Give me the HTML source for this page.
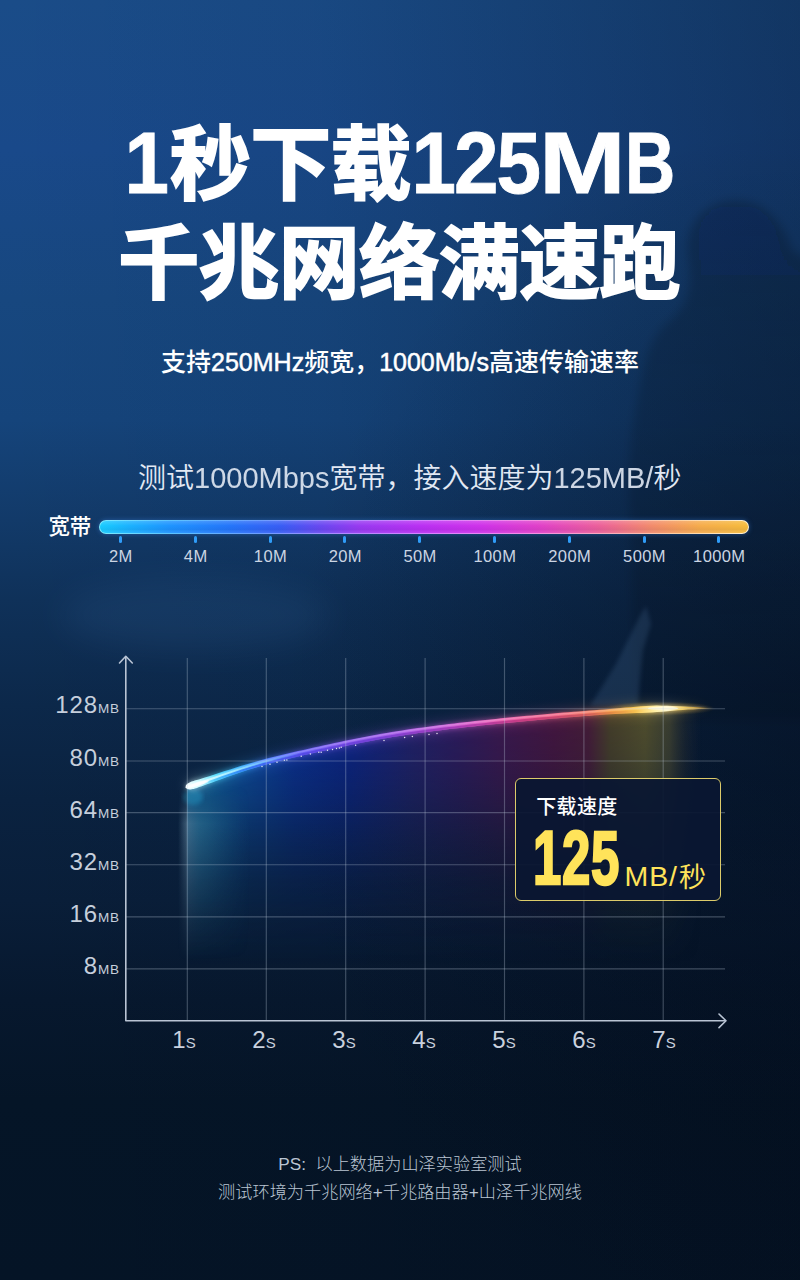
<!DOCTYPE html>
<html lang="zh-CN">
<head>
<meta charset="utf-8">
<title>1秒下载125MB 千兆网络满速跑</title>
<style>
html,body{margin:0;padding:0;}
body{width:800px;height:1280px;overflow:hidden;background:#0c1d36;font-family:"Liberation Sans","Noto Sans CJK SC",sans-serif;}
#stage{position:relative;width:800px;height:1280px;overflow:hidden;
  background:
   radial-gradient(ellipse 520px 620px at 100% 58%,rgba(2,9,22,.34) 0%,rgba(2,9,22,.2) 45%,rgba(2,9,22,0) 100%),
   linear-gradient(90deg,rgba(2,10,24,0) 0%,rgba(2,10,24,.06) 40%,rgba(2,10,24,.33) 100%),
   linear-gradient(180deg,#1a4c88 0px,#19498a 150px,#17477f 300px,#15447b 420px,#123a69 520px,#0f3159 600px,#0c284a 705px,#0a2240 800px,#091e39 900px,#07182e 1000px,#051527 1100px,#051426 1280px);}
#bgsvg{position:absolute;left:0;top:0;width:800px;height:1280px;}
.abs{position:absolute;white-space:nowrap;}
h1{position:absolute;left:0;top:113px;width:800px;margin:0;text-align:center;color:#fff;font-size:81px;line-height:100px;font-weight:700;letter-spacing:-0.8px;white-space:nowrap;-webkit-text-stroke:2px #fff;}
h1 .l1{position:relative;top:2px;left:1px;}
h1 .l2{position:relative;left:-1px;}
h1 .la{display:inline-block;font-size:80px;font-weight:700;letter-spacing:0;transform:scaleY(1.08);transform-origin:50% 78%;-webkit-text-stroke:.8px #fff;}
h1 .la i{display:inline-block;font-style:normal;transform-origin:0 50%;}
h1 .la .m{transform:scaleX(1.3);margin-right:19px;}
h1 .la .b{transform:scaleX(.87);margin-right:-8px;}
.sub{left:0;width:800px;top:345px;text-align:center;color:#fff;font-size:25px;line-height:34px;font-weight:500;}
.sub span{-webkit-text-stroke:.5px #fff;}
.test{left:138px;top:458px;color:#e2e9f4;font-size:28px;line-height:40px;font-weight:350;}
.test span{font-size:29px;opacity:.9;}
.bwlabel{left:48.5px;top:513px;color:#fff;font-size:21.5px;line-height:28px;font-weight:500;letter-spacing:-.2px;}
.bar{position:absolute;left:99px;top:519.5px;width:650px;height:14.5px;border-radius:7.5px;
  background:linear-gradient(90deg,#7cecff 0.0%,#5cc4ff 10.9%,#6c9eff 24.8%,#b08aff 37.1%,#da84ff 50.9%,#f28ce8 64.8%,#f9aac0 77.1%,#fdd2a2 89.4%,#fff2d4 100.0%);
  box-shadow:0 0 5px rgba(70,150,255,.4);}
.bar::after{content:"";position:absolute;left:1.2px;top:1.3px;right:1.2px;bottom:1.3px;border-radius:6px;
  background:linear-gradient(180deg,rgba(255,255,255,.16) 0%,rgba(255,255,255,0) 40%,rgba(0,0,60,.05) 70%,rgba(255,255,255,.08) 100%),
  linear-gradient(90deg,#18ccff -0.0%,#1bb2ff 4.6%,#1e94ff 10.8%,#2476fa 20.0%,#385ef5 27.8%,#6849f1 33.9%,#993af1 40.1%,#ba30f3 49.4%,#cf32ea 58.6%,#e141c8 67.9%,#ec6199 77.2%,#f28a6d 84.9%,#f6ac4b 92.6%,#f6bc3c 100.0%);}
.tick{position:absolute;top:536px;width:3px;height:6.5px;border-radius:1.5px;background:#2f9cf8;}
.tl{top:545px;width:80px;margin-left:-39.6px;text-align:center;color:#cbd5e3;font-size:16.5px;line-height:22px;letter-spacing:.4px;}
.yl{width:119.5px;left:0;text-align:right;color:#c6cfdc;font-size:24px;line-height:30px;letter-spacing:.9px;}
.yl small{font-size:13.5px;letter-spacing:.6px;margin-left:0;}
.xl{width:60px;margin-left:-30px;text-align:center;top:1025px;color:#c9d1de;font-size:24px;line-height:30px;}
.xl small{font-size:15px;}
.box{position:absolute;left:515px;top:778px;width:204px;height:121px;border:1px solid #dccb6a;border-radius:6px;background:rgba(10,23,49,.93);}
.box .t{left:20.3px;top:14.6px;color:#fff;font-size:20px;line-height:26px;font-weight:500;letter-spacing:.3px;}
.box .n{left:17px;top:38.5px;color:#ffe35a;font-size:75.5px;line-height:80px;font-weight:700;transform:scaleX(.675);transform-origin:0 50%;-webkit-text-stroke:2.5px #ffe35a;letter-spacing:1px;}
.box .u{left:108.5px;top:79px;color:#ffe35a;font-size:28.5px;line-height:36px;letter-spacing:.9px;}
.box .u b{font-weight:400;font-size:27px;margin-left:1px;position:relative;top:.5px;}
.ps{left:0;width:800px;text-align:center;color:#bac5d3;font-size:17.2px;line-height:24px;font-weight:300;}
</style>
</head>
<body>
<div id="stage">
<svg id="bgsvg" viewBox="0 0 800 1280">
<defs><linearGradient id="sil" gradientUnits="userSpaceOnUse" x1="0" y1="200" x2="0" y2="720"><stop offset="0" stop-color="#020a18" stop-opacity=".2"/><stop offset=".35" stop-color="#020a18" stop-opacity=".15"/><stop offset="1" stop-color="#020a18" stop-opacity=".1"/></linearGradient><filter id="bb" x="-20%" y="-20%" width="140%" height="140%"><feGaussianBlur stdDeviation="5"/></filter>
<filter id="bd" x="-20%" y="-20%" width="140%" height="140%"><feGaussianBlur stdDeviation="2.2"/></filter>
<filter id="bc" x="-30%" y="-60%" width="160%" height="220%"><feGaussianBlur stdDeviation="16"/></filter></defs>
<path d="M688 258C684 228 700 206 728 201C760 197 782 218 792 250L812 262V720H640C636 670 630 610 632 560C628 500 626 450 638 398C644 360 650 338 668 322C684 310 694 292 688 258Z" fill="url(#sil)" filter="url(#bb)"/>
<ellipse cx="195" cy="615" rx="135" ry="36" fill="#5c9be0" opacity=".085" filter="url(#bc)"/>
<path d="M646 606L651 624L643 650L640 680L638 706H590L600 690L616 664L630 636L640 616Z" fill="#6a97c8" opacity=".16" filter="url(#bd)"/>
</svg>

<h1><span class="l1"><span class="la" style="margin-left:-3px;margin-right:1px">1</span>秒下载<span class="la" style="margin-left:1px"><i style="letter-spacing:-2px">125</i><i class="m">M</i><i class="b">B</i></span></span><br><span class="l2">千兆网络满速跑</span></h1>
<div class="abs sub">支持<span>250MHz</span>频宽，<span>1000Mb/s</span>高速传输速率</div>
<div class="abs test">测试<span>1000Mbps</span>宽带，接入速度为<span>125MB/</span>秒</div>

<div class="abs bwlabel">宽带</div>
<div class="bar"></div>
<div class="tick" style="left:119.0px"></div><div class="abs tl" style="left:120.5px">2M</div>
<div class="tick" style="left:193.8px"></div><div class="abs tl" style="left:195.3px">4M</div>
<div class="tick" style="left:268.6px"></div><div class="abs tl" style="left:270.1px">10M</div>
<div class="tick" style="left:343.4px"></div><div class="abs tl" style="left:344.9px">20M</div>
<div class="tick" style="left:418.2px"></div><div class="abs tl" style="left:419.7px">50M</div>
<div class="tick" style="left:493.0px"></div><div class="abs tl" style="left:494.5px">100M</div>
<div class="tick" style="left:567.8px"></div><div class="abs tl" style="left:569.3px">200M</div>
<div class="tick" style="left:642.6px"></div><div class="abs tl" style="left:644.1px">500M</div>
<div class="tick" style="left:717.4px"></div><div class="abs tl" style="left:718.9px">1000M</div>

<svg class="abs" style="left:0;top:600px" width="800" height="460" viewBox="0 600 800 460">
<defs>
<linearGradient id="cg" gradientUnits="userSpaceOnUse" x1="186" y1="0" x2="714" y2="0">
<stop offset="0.000" stop-color="#f6ffff"/><stop offset="0.027" stop-color="#c0f9ff"/><stop offset="0.055" stop-color="#58e0ff"/><stop offset="0.102" stop-color="#3ab4ff"/><stop offset="0.152" stop-color="#4a80ff"/><stop offset="0.216" stop-color="#6a64f8"/><stop offset="0.303" stop-color="#8c5cf0"/><stop offset="0.405" stop-color="#aa5ee8"/><stop offset="0.481" stop-color="#c660dc"/><stop offset="0.557" stop-color="#e262c4"/><stop offset="0.633" stop-color="#f064a2"/><stop offset="0.708" stop-color="#f36c88"/><stop offset="0.765" stop-color="#f5826a"/><stop offset="0.807" stop-color="#f7a24e"/><stop offset="0.850" stop-color="#fcca52"/><stop offset="0.888" stop-color="#fff0a4"/><stop offset="0.911" stop-color="#fff9d4"/><stop offset="0.939" stop-color="#f8d260"/><stop offset="0.970" stop-color="#dcaa42" stop-opacity="0.75"/><stop offset="1.000" stop-color="#c89a30" stop-opacity="0"/>
</linearGradient>
<linearGradient id="kg" gradientUnits="userSpaceOnUse" x1="186" y1="0" x2="300" y2="0"><stop offset="0" stop-color="#fff" stop-opacity=".95"/><stop offset=".35" stop-color="#c8fbff" stop-opacity=".8"/><stop offset=".7" stop-color="#8ae6ff" stop-opacity=".45"/><stop offset="1" stop-color="#8ad0ff" stop-opacity="0"/></linearGradient>
<linearGradient id="dg" gradientUnits="userSpaceOnUse" x1="186" y1="0" x2="714" y2="0">
<stop offset="0.027" stop-color="#2a6cf0" stop-opacity="0"/><stop offset="0.112" stop-color="#2f5cf0" stop-opacity="0.55"/><stop offset="0.216" stop-color="#4a40e0" stop-opacity="0.7"/><stop offset="0.367" stop-color="#6a34cc" stop-opacity="0.7"/><stop offset="0.519" stop-color="#9a2ca8" stop-opacity="0.7"/><stop offset="0.652" stop-color="#b82c70" stop-opacity="0.7"/><stop offset="0.756" stop-color="#b84050" stop-opacity="0.6"/><stop offset="0.812" stop-color="#c06030" stop-opacity="0.3"/><stop offset="0.869" stop-color="#c06030" stop-opacity="0"/>
</linearGradient>
<linearGradient id="ag" gradientUnits="userSpaceOnUse" x1="187" y1="0" x2="726" y2="0">
<stop offset="0" stop-color="#1670a8"/><stop offset=".04" stop-color="#126aa8"/><stop offset=".10" stop-color="#0d50a2"/><stop offset=".2" stop-color="#0a3096"/><stop offset=".3" stop-color="#0c2388"/>
<stop offset=".42" stop-color="#24206a"/><stop offset=".5" stop-color="#301a5e"/><stop offset=".58" stop-color="#401750"/><stop offset=".68" stop-color="#4a1540"/><stop offset=".745" stop-color="#4c1c38"/>
<stop offset=".785" stop-color="#4c4228"/><stop offset=".85" stop-color="#58532c"/><stop offset=".895" stop-color="#4e4c30" stop-opacity=".8"/><stop offset=".925" stop-color="#3a3a30" stop-opacity=".35"/><stop offset=".955" stop-color="#2a3040" stop-opacity="0"/>
</linearGradient>
<linearGradient id="fade" gradientUnits="userSpaceOnUse" x1="0" y1="705" x2="0" y2="965">
<stop offset="0" stop-color="#fff" stop-opacity=".9"/><stop offset=".2" stop-color="#fff" stop-opacity=".78"/><stop offset=".37" stop-color="#fff" stop-opacity=".58"/><stop offset=".52" stop-color="#fff" stop-opacity=".36"/><stop offset=".68" stop-color="#fff" stop-opacity=".17"/><stop offset=".84" stop-color="#fff" stop-opacity=".06"/><stop offset="1" stop-color="#fff" stop-opacity="0"/>
</linearGradient>
<mask id="am" maskUnits="userSpaceOnUse" x="0" y="600" width="800" height="460"><rect x="0" y="600" width="800" height="460" fill="url(#fade)"/></mask>
<linearGradient id="tg" gradientUnits="userSpaceOnUse" x1="178" y1="0" x2="250" y2="0">
<stop offset="0" stop-color="#6a90a8" stop-opacity="0"/><stop offset=".12" stop-color="#6a90a8" stop-opacity=".55"/><stop offset=".3" stop-color="#3f86a4" stop-opacity=".45"/><stop offset="1" stop-color="#1a6a98" stop-opacity="0"/>
</linearGradient>
<linearGradient id="tfade" gradientUnits="userSpaceOnUse" x1="0" y1="785" x2="0" y2="960">
<stop offset="0" stop-color="#fff" stop-opacity="0"/><stop offset=".05" stop-color="#fff" stop-opacity=".1"/><stop offset=".12" stop-color="#fff" stop-opacity=".4"/><stop offset=".22" stop-color="#fff" stop-opacity=".95"/><stop offset=".45" stop-color="#fff" stop-opacity=".62"/><stop offset=".75" stop-color="#fff" stop-opacity=".24"/><stop offset="1" stop-color="#fff" stop-opacity="0"/>
</linearGradient>
<mask id="tm" maskUnits="userSpaceOnUse" x="0" y="600" width="800" height="460"><rect x="0" y="600" width="800" height="460" fill="url(#tfade)"/></mask>
<filter id="b3" x="-10%" y="-60%" width="120%" height="220%"><feGaussianBlur stdDeviation="2.2"/></filter>
<filter id="b8" x="-10%" y="-100%" width="120%" height="300%"><feGaussianBlur stdDeviation="6"/></filter>
<filter id="b1" x="-5%" y="-30%" width="110%" height="160%"><feGaussianBlur stdDeviation=".5"/></filter>
<radialGradient id="fg" cx=".5" cy=".5" r=".5"><stop offset="0" stop-color="#ffe9a0" stop-opacity=".7"/><stop offset=".4" stop-color="#ffcf55" stop-opacity=".3"/><stop offset="1" stop-color="#e0a030" stop-opacity="0"/></radialGradient>
</defs>
<g mask="url(#am)"><path d="M187.0 786.9L193.7 784.9L200.3 782.8L207.0 780.6L213.7 778.3L220.4 776.0L227.0 773.8L233.7 771.5L240.4 769.3L247.0 767.2L253.7 765.2L260.4 763.2L267.1 761.4L273.7 759.7L280.4 758.0L287.1 756.4L293.7 754.8L300.4 753.3L307.1 751.8L313.7 750.3L320.4 748.8L327.1 747.3L333.8 745.8L340.4 744.4L347.1 743.0L353.8 741.6L360.4 740.3L367.1 739.0L373.8 737.7L380.5 736.5L387.1 735.4L393.8 734.3L400.5 733.2L407.1 732.2L413.8 731.2L420.5 730.3L427.2 729.4L433.8 728.5L440.5 727.7L447.2 726.8L453.8 726.0L460.5 725.3L467.2 724.5L473.8 723.8L480.5 723.0L487.2 722.3L493.9 721.6L500.5 720.9L507.2 720.3L513.9 719.6L520.5 719.0L527.2 718.4L533.9 717.7L540.6 717.1L547.2 716.6L553.9 716.0L560.6 715.4L567.2 714.9L573.9 714.3L580.6 713.8L587.3 713.3L593.9 712.8L600.6 712.3L607.3 711.8L613.9 711.3L620.6 710.9L627.3 710.4L633.9 710.0L640.6 709.6L647.3 709.3L654.0 709.0L660.6 708.7L667.3 708.5L674.0 708.3L680.6 708.2L687.3 708.2L694.0 708.2L700.7 708.2L707.3 708.3L714.0 708.6L714 1020L187 1020Z" fill="url(#ag)"/></g>
<g mask="url(#tm)"><rect x="178" y="780" width="72" height="190" fill="url(#tg)"/></g>
<ellipse cx="193" cy="797" rx="10" ry="8" fill="#2ad0ff" opacity=".24" filter="url(#b3)"/>
<path d="M185.2 786.4L185.7 784.2L186.5 783.1L187.2 781.8L188.0 780.6L188.7 779.5L189.6 778.6L190.6 778.2L191.6 777.8L192.6 777.5L193.6 777.2L194.7 776.9L195.7 776.6L196.7 776.3L197.8 776.0L203.0 774.5L208.2 772.9L213.4 771.2L218.6 769.5L223.8 767.8L229.1 766.1L234.3 764.5L239.5 762.8L244.8 761.2L250.1 759.6L255.4 758.1L260.6 756.6L265.9 755.2L271.1 753.9L276.4 752.6L281.6 751.3L286.8 750.1L292.1 748.9L297.3 747.7L302.5 746.5L307.7 745.3L312.9 744.2L318.1 743.0L323.3 741.9L328.5 740.7L333.7 739.6L338.9 738.5L344.1 737.4L349.3 736.3L354.6 735.3L359.8 734.2L365.0 733.2L370.2 732.2L375.4 731.3L380.7 730.3L385.9 729.4L391.1 728.6L396.3 727.7L401.6 726.9L406.8 726.1L412.0 725.4L417.2 724.6L422.4 723.9L427.7 723.2L432.9 722.5L438.1 721.9L443.3 721.2L448.5 720.6L453.7 720.0L458.9 719.4L464.1 718.8L469.3 718.2L474.5 717.6L479.7 717.0L484.9 716.5L490.1 715.9L495.3 715.4L500.5 714.9L505.7 714.3L510.9 713.8L516.1 713.3L521.3 712.8L526.5 712.3L531.7 711.9L536.9 711.4L542.1 710.9L547.3 710.5L552.5 710.0L557.7 709.6L562.9 709.2L568.1 708.7L573.3 708.3L578.5 707.9L583.7 707.5L588.9 707.1L594.1 706.7L599.3 706.3L604.5 705.9L609.7 705.5L614.9 705.0L620.1 704.6L625.3 704.1L630.5 703.7L635.7 703.3L640.9 702.8L646.2 702.5L651.4 702.2L656.6 702.4L661.9 702.8L667.1 703.2L672.4 703.7L677.6 704.2L682.8 704.7L688.0 705.2L693.2 705.8L698.4 706.4L703.6 707.0L708.8 707.7L714.0 708.6L714.0 708.6L708.8 709.1L703.6 709.5L698.4 710.0L693.2 710.5L688.1 711.1L682.9 711.7L677.7 712.4L672.6 713.1L667.4 713.8L662.3 714.6L657.1 715.3L652.0 716.0L646.8 716.2L641.7 716.4L636.5 716.5L631.3 716.7L626.1 716.9L621.0 717.2L615.8 717.4L610.6 717.7L605.4 718.1L600.2 718.4L595.0 718.8L589.9 719.2L584.7 719.6L579.5 720.0L574.3 720.4L569.1 720.8L563.9 721.2L558.7 721.6L553.6 722.1L548.4 722.5L543.2 723.0L538.0 723.4L532.8 723.9L527.6 724.4L522.5 724.9L517.3 725.4L512.1 725.9L506.9 726.4L501.7 726.9L496.6 727.4L491.4 728.0L486.2 728.5L481.0 729.1L475.8 729.6L470.7 730.2L465.5 730.8L460.3 731.4L455.1 732.0L449.9 732.6L444.8 733.2L439.6 733.9L434.4 734.5L429.2 735.2L424.1 735.9L418.9 736.6L413.7 737.3L408.6 738.1L403.4 738.9L398.2 739.7L393.1 740.5L387.9 741.4L382.8 742.3L377.6 743.2L372.4 744.2L367.3 745.1L362.1 746.1L357.0 747.2L351.8 748.2L346.6 749.3L341.4 750.4L336.3 751.5L331.1 752.7L325.9 753.8L320.7 755.0L315.6 756.1L310.4 757.3L305.2 758.5L300.0 759.7L294.8 760.9L289.7 762.1L284.5 763.3L279.4 764.6L274.2 766.0L269.1 767.3L264.0 768.8L258.9 770.2L253.8 771.8L248.6 773.4L243.5 775.1L238.4 776.8L233.3 778.6L228.1 780.4L222.9 782.3L217.8 784.1L212.6 786.0L207.4 787.9L202.2 789.7L201.2 790.1L200.2 790.5L199.1 790.8L198.1 791.2L197.0 791.6L196.0 791.9L194.9 792.2L193.9 792.5L192.6 792.2L191.3 791.7L190.0 791.2L188.7 790.5L187.4 790.0L185.8 788.4Z" fill="url(#cg)" opacity=".2" filter="url(#b8)"/>
<path d="M185.4 787.1L185.9 784.9L186.7 783.9L187.6 783.0L188.5 782.2L189.4 781.5L190.3 781.0L191.3 780.6L192.3 780.2L193.4 779.9L194.4 779.6L195.4 779.3L196.5 779.0L197.5 778.7L198.5 778.4L203.8 776.8L209.0 775.2L214.2 773.6L219.4 771.9L224.6 770.2L229.8 768.5L235.1 766.8L240.3 765.2L245.6 763.6L250.8 762.0L256.1 760.5L261.3 759.0L266.5 757.6L271.8 756.3L277.0 755.0L282.2 753.7L287.4 752.5L292.6 751.3L297.8 750.1L303.0 748.9L308.2 747.8L313.4 746.6L318.6 745.5L323.8 744.3L329.0 743.2L334.2 742.1L339.4 741.0L344.6 739.9L349.8 738.8L355.1 737.7L360.3 736.7L365.5 735.7L370.7 734.7L375.9 733.7L381.1 732.8L386.3 731.9L391.5 731.0L396.7 730.2L401.9 729.4L407.2 728.6L412.4 727.8L417.6 727.1L422.8 726.4L428.0 725.7L433.2 725.0L438.4 724.3L443.6 723.7L448.8 723.1L454.0 722.4L459.2 721.8L464.4 721.2L469.6 720.7L474.8 720.1L480.0 719.5L485.2 719.0L490.4 718.4L495.6 717.9L500.8 717.3L506.0 716.8L511.2 716.3L516.4 715.8L521.6 715.3L526.8 714.8L532.0 714.4L537.2 713.9L542.4 713.4L547.6 713.0L552.7 712.5L557.9 712.1L563.1 711.6L568.3 711.2L573.5 710.8L578.7 710.4L583.9 710.0L589.1 709.6L594.3 709.2L599.5 708.8L604.7 708.4L609.9 708.0L615.1 707.5L620.3 707.1L625.5 706.6L630.7 706.2L635.9 705.8L641.1 705.3L646.3 705.0L651.5 704.7L656.7 704.7L661.9 704.9L667.2 705.1L672.4 705.3L677.6 705.6L682.8 705.9L688.0 706.3L693.2 706.6L698.4 707.0L703.6 707.4L708.8 707.9L714.0 708.6L714.0 708.6L708.8 708.9L703.6 709.1L698.4 709.4L693.2 709.7L688.0 710.0L682.9 710.4L677.7 710.9L672.5 711.4L667.4 711.9L662.2 712.5L657.1 713.0L651.9 713.5L646.7 713.7L641.5 713.9L636.4 714.1L631.2 714.2L626.0 714.4L620.8 714.7L615.6 714.9L610.4 715.2L605.2 715.6L600.0 715.9L594.9 716.3L589.7 716.7L584.5 717.1L579.3 717.5L574.1 717.9L568.9 718.3L563.7 718.7L558.5 719.2L553.4 719.6L548.2 720.0L543.0 720.5L537.8 721.0L532.6 721.4L527.4 721.9L522.2 722.4L517.0 722.9L511.9 723.4L506.7 723.9L501.5 724.4L496.3 724.9L491.1 725.5L485.9 726.0L480.7 726.6L475.6 727.1L470.4 727.7L465.2 728.3L460.0 728.9L454.8 729.5L449.6 730.1L444.5 730.7L439.3 731.4L434.1 732.1L428.9 732.7L423.7 733.4L418.6 734.1L413.4 734.9L408.2 735.6L403.0 736.4L397.9 737.2L392.7 738.1L387.5 738.9L382.3 739.8L377.2 740.7L372.0 741.7L366.8 742.7L361.6 743.7L356.5 744.7L351.3 745.8L346.1 746.9L340.9 748.0L335.7 749.1L330.6 750.2L325.4 751.4L320.2 752.5L315.0 753.7L309.8 754.8L304.6 756.0L299.5 757.2L294.3 758.4L289.1 759.7L283.9 760.9L278.8 762.2L273.6 763.5L268.5 764.9L263.3 766.4L258.2 767.8L253.0 769.4L247.9 771.0L242.8 772.7L237.6 774.5L232.5 776.2L227.3 778.1L222.1 779.9L217.0 781.8L211.8 783.6L206.6 785.5L201.5 787.4L200.4 787.7L199.4 788.1L198.4 788.5L197.3 788.8L196.3 789.2L195.2 789.5L194.2 789.8L193.1 790.1L192.0 790.1L190.8 790.1L189.6 789.9L188.4 789.6L187.2 789.2L185.6 787.7Z" fill="url(#cg)" opacity=".4" filter="url(#b3)"/>
<ellipse cx="660" cy="708.5" rx="56" ry="7" fill="url(#fg)"/>
<path d="M185.5 787.4L186.0 785.2L186.8 784.2L187.7 783.5L188.7 782.9L189.6 782.4L190.6 781.9L191.6 781.5L192.6 781.2L193.7 780.9L194.7 780.6L195.7 780.3L196.8 780.0L197.8 779.7L198.9 779.4L204.1 777.8L209.3 776.2L214.5 774.5L219.7 772.8L224.9 771.1L230.2 769.5L235.4 767.8L240.6 766.1L245.9 764.5L251.1 763.0L256.3 761.5L261.6 760.0L266.8 758.6L272.0 757.3L277.2 756.0L282.4 754.7L287.6 753.5L292.9 752.3L298.1 751.1L303.3 749.9L308.5 748.7L313.7 747.6L318.8 746.4L324.0 745.3L329.2 744.2L334.4 743.0L339.6 741.9L344.8 740.8L350.0 739.8L355.2 738.7L360.5 737.7L365.7 736.7L370.9 735.7L376.1 734.7L381.3 733.8L386.5 732.9L391.7 732.0L396.9 731.2L402.1 730.4L407.3 729.6L412.5 728.8L417.7 728.1L422.9 727.4L428.1 726.7L433.3 726.0L438.5 725.3L443.7 724.7L448.9 724.1L454.1 723.4L459.3 722.8L464.5 722.2L469.7 721.7L474.9 721.1L480.1 720.5L485.3 720.0L490.5 719.4L495.7 718.9L500.9 718.3L506.1 717.8L511.3 717.3L516.5 716.8L521.7 716.3L526.9 715.8L532.1 715.4L537.2 714.9L542.4 714.4L547.6 714.0L552.8 713.5L558.0 713.1L563.2 712.6L568.4 712.2L573.6 711.8L578.8 711.4L584.0 711.0L589.2 710.6L594.4 710.2L599.6 709.8L604.8 709.4L610.0 709.0L615.2 708.5L620.4 708.1L625.6 707.6L630.7 707.2L635.9 706.8L641.1 706.3L646.3 706.0L651.5 705.7L656.8 705.6L662.0 705.7L667.2 705.8L672.4 706.0L677.6 706.2L682.8 706.4L688.0 706.7L693.2 706.9L698.4 707.2L703.6 707.6L708.8 708.0L714.0 708.6L714.0 708.6L708.8 708.8L703.6 709.0L698.4 709.1L693.2 709.4L688.0 709.6L682.9 709.9L677.7 710.3L672.5 710.7L667.4 711.2L662.2 711.7L657.0 712.1L651.9 712.5L646.7 712.7L641.5 712.9L636.3 713.1L631.1 713.2L625.9 713.4L620.7 713.7L615.5 713.9L610.3 714.2L605.2 714.6L600.0 714.9L594.8 715.3L589.6 715.7L584.4 716.1L579.2 716.5L574.0 716.9L568.8 717.3L563.6 717.7L558.5 718.2L553.3 718.6L548.1 719.0L542.9 719.5L537.7 720.0L532.5 720.4L527.3 720.9L522.1 721.4L517.0 721.9L511.8 722.4L506.6 722.9L501.4 723.4L496.2 723.9L491.0 724.5L485.8 725.0L480.6 725.6L475.5 726.2L470.3 726.7L465.1 727.3L459.9 727.9L454.7 728.5L449.5 729.1L444.3 729.8L439.1 730.4L434.0 731.1L428.8 731.7L423.6 732.4L418.4 733.1L413.2 733.9L408.1 734.6L402.9 735.4L397.7 736.2L392.5 737.1L387.3 737.9L382.2 738.8L377.0 739.8L371.8 740.7L366.6 741.7L361.4 742.7L356.3 743.7L351.1 744.8L345.9 745.9L340.7 747.0L335.5 748.1L330.4 749.2L325.2 750.4L320.0 751.5L314.8 752.7L309.6 753.9L304.4 755.1L299.2 756.2L294.1 757.5L288.9 758.7L283.7 759.9L278.5 761.2L273.4 762.6L268.2 764.0L263.0 765.4L257.9 766.9L252.7 768.4L247.6 770.1L242.4 771.8L237.3 773.5L232.1 775.3L227.0 777.1L221.8 779.0L216.7 780.8L211.5 782.7L206.3 784.6L201.1 786.4L200.1 786.8L199.1 787.1L198.0 787.5L197.0 787.9L196.0 788.2L194.9 788.6L193.9 788.9L192.8 789.1L191.7 789.3L190.6 789.4L189.5 789.4L188.3 789.3L187.1 788.9L185.5 787.4Z" fill="url(#cg)" filter="url(#b1)"/>
<path d="M185.9 788.8L186.7 787.7L187.7 787.1L188.7 786.6L189.6 786.2L190.7 785.8L191.7 785.4L192.7 785.0L193.7 784.7L194.8 784.4L195.8 784.1L196.8 783.8L197.9 783.4L198.9 783.1L200.0 782.8L205.2 781.1L210.4 779.4L215.6 777.7L220.8 776.0L226.0 774.3L231.2 772.5L236.4 770.8L241.6 769.1L246.8 767.5L252.0 765.9L257.2 764.4L262.4 763.0L267.6 761.6L272.8 760.2L278.0 758.9L283.1 757.6L288.3 756.4L293.5 755.2L298.7 754.0L303.9 752.8L309.1 751.7L314.3 750.5L319.5 749.3L324.7 748.2L329.9 747.1L335.1 745.9L340.3 744.8L345.4 743.7L350.6 742.6L355.8 741.6L361.0 740.6L366.2 739.5L371.4 738.6L376.6 737.6L381.8 736.7L387.0 735.8L392.2 734.9L397.4 734.1L402.5 733.3L407.7 732.5L412.9 731.7L418.1 731.0L423.3 730.3L428.5 729.6L433.7 728.9L438.9 728.2L444.1 727.6L449.3 727.0L454.4 726.4L459.6 725.7L464.8 725.2L470.0 724.6L475.2 724.0L480.4 723.4L485.6 722.9L490.8 722.3L496.0 721.8L501.2 721.3L506.4 720.7L511.6 720.2L516.7 719.7L521.9 719.2L527.1 718.7L532.3 718.3L537.5 717.8L542.7 717.3L547.9 716.9L553.1 716.4L558.3 716.0L563.5 715.6L568.7 715.1L573.8 714.7L579.0 714.3L584.2 713.9L589.4 713.5L594.6 713.1L599.8 712.7L605.0 712.3L610.2 711.9L615.4 711.5L620.6 711.2L625.8 710.8L630.9 710.4L636.1 710.0L641.3 709.7L646.5 709.4L651.7 709.1L656.9 709.0L662.1 708.9L667.3 708.8L672.5 708.8L677.7 708.9L682.9 708.9L688.0 709.0L693.2 709.1L698.4 709.2L703.6 709.4L708.8 709.7L713.9 710.0L713.9 710.0L708.8 710.0L703.6 710.0L698.4 710.0L693.2 710.1L688.0 710.2L682.9 710.4L677.7 710.6L672.5 710.8L667.3 711.1L662.2 711.4L657.0 711.7L651.8 712.0L646.6 712.2L641.5 712.4L636.3 712.7L631.1 712.9L625.9 713.2L620.7 713.5L615.5 713.8L610.3 714.1L605.2 714.5L600.0 714.9L594.8 715.3L589.6 715.6L584.4 716.0L579.2 716.4L574.0 716.9L568.8 717.3L563.6 717.7L558.5 718.1L553.3 718.6L548.1 719.0L542.9 719.5L537.7 719.9L532.5 720.4L527.3 720.9L522.1 721.4L516.9 721.9L511.8 722.4L506.6 722.9L501.4 723.4L496.2 723.9L491.0 724.5L485.8 725.0L480.6 725.6L475.4 726.1L470.3 726.7L465.1 727.3L459.9 727.9L454.7 728.5L449.5 729.1L444.3 729.7L439.1 730.4L434.0 731.0L428.8 731.7L423.6 732.4L418.4 733.1L413.2 733.9L408.0 734.6L402.9 735.4L397.7 736.2L392.5 737.0L387.3 737.9L382.2 738.8L377.0 739.7L371.8 740.7L366.6 741.7L361.4 742.7L356.3 743.7L351.1 744.8L345.9 745.8L340.7 746.9L335.5 748.1L330.3 749.2L325.2 750.3L320.0 751.5L314.8 752.6L309.6 753.8L304.4 755.0L299.2 756.2L294.0 757.4L288.9 758.6L283.7 759.8L278.5 761.1L273.3 762.4L268.2 763.8L263.0 765.2L257.8 766.7L252.7 768.2L247.5 769.8L242.4 771.5L237.2 773.2L232.0 775.0L226.9 776.8L221.7 778.6L216.5 780.4L211.3 782.2L206.1 784.0L200.9 785.7L199.9 786.1L198.9 786.4L197.8 786.8L196.8 787.1L195.7 787.5L194.7 787.8L193.7 788.1L192.6 788.4L191.5 788.7L190.5 788.9L189.4 789.1L188.3 789.2L187.2 789.3L185.9 788.8Z" fill="url(#dg)"/>
<path d="M185.1 786.1L186.0 785.2L187.0 784.7L188.0 784.3L189.0 783.9L190.0 783.5L191.0 783.1L192.0 782.8L193.0 782.5L194.1 782.2L195.1 781.8L196.1 781.5L197.2 781.2L198.2 780.9L199.2 780.5L204.4 778.9L209.6 777.2L214.8 775.5L220.0 773.7L225.2 772.0L230.4 770.2L235.6 768.5L240.8 766.8L246.1 765.2L251.3 763.6L256.5 762.1L261.7 760.6L266.9 759.2L272.1 757.8L277.4 756.5L282.6 755.2L287.8 754.0L293.0 752.8L298.2 751.6L303.4 750.4L308.6 749.2L313.8 748.1L319.0 746.9L324.1 745.8L329.3 744.6L334.5 743.5L339.7 742.4L344.9 741.3L350.1 740.2L355.3 739.1L360.5 738.1L365.7 737.1L370.9 736.1L376.1 735.2L381.4 734.2L386.6 733.3L391.8 732.5L397.0 731.6L402.2 730.8L407.4 730.0L412.6 729.3L417.8 728.5L423.0 727.8L428.2 727.1L433.4 726.4L438.6 725.8L443.8 725.1L449.0 724.5L454.2 723.9L459.4 723.3L464.5 722.7L469.7 722.1L474.9 721.5L480.1 720.9L485.3 720.4L490.5 719.8L495.7 719.3L500.9 718.8L506.1 718.3L511.3 717.7L516.5 717.2L521.7 716.7L526.9 716.3L532.1 715.8L537.3 715.3L542.5 714.9L547.7 714.4L552.9 714.0L558.1 713.5L563.3 713.1L568.5 712.7L573.6 712.2L578.8 711.8L584.0 711.4L589.2 711.0L594.4 710.6L599.6 710.2L604.8 709.8L610.0 709.5L615.2 709.1L620.4 708.7L625.6 708.3L630.8 708.0L636.0 707.6L641.2 707.3L646.4 707.0L651.6 706.7L656.8 706.6L662.0 706.4L667.2 706.4L672.4 706.3L677.6 706.3L682.8 706.3L688.0 706.4L693.2 706.4L698.4 706.6L703.6 706.7L708.8 706.9L714.0 707.2L714.0 707.2L708.8 707.2L703.6 707.1L698.4 707.1L693.2 707.2L688.0 707.2L682.8 707.4L677.6 707.5L672.4 707.7L667.3 708.0L662.1 708.2L656.9 708.5L651.7 708.8L646.5 709.0L641.3 709.2L636.1 709.5L630.9 709.8L625.7 710.1L620.5 710.4L615.3 710.7L610.1 711.0L604.9 711.4L599.7 711.8L594.5 712.2L589.3 712.5L584.2 712.9L579.0 713.3L573.8 713.8L568.6 714.2L563.4 714.6L558.2 715.0L553.0 715.5L547.8 715.9L542.6 716.4L537.4 716.8L532.2 717.3L527.0 717.8L521.8 718.3L516.7 718.8L511.5 719.3L506.3 719.8L501.1 720.3L495.9 720.8L490.7 721.4L485.5 721.9L480.3 722.5L475.1 723.0L469.9 723.6L464.7 724.2L459.5 724.8L454.3 725.4L449.1 726.0L443.9 726.6L438.8 727.3L433.6 727.9L428.4 728.6L423.2 729.3L418.0 730.0L412.8 730.8L407.6 731.5L402.4 732.3L397.2 733.1L392.0 734.0L386.8 734.8L381.6 735.7L376.4 736.7L371.2 737.6L366.0 738.6L360.8 739.6L355.6 740.7L350.4 741.7L345.3 742.8L340.1 743.9L334.9 745.0L329.7 746.1L324.5 747.3L319.3 748.4L314.1 749.6L308.9 750.8L303.7 751.9L298.5 753.1L293.3 754.3L288.1 755.5L282.9 756.8L277.7 758.1L272.6 759.4L267.4 760.8L262.2 762.2L257.0 763.7L251.8 765.2L246.6 766.8L241.4 768.5L236.2 770.2L231.0 772.0L225.8 773.8L220.6 775.5L215.5 777.3L210.3 779.1L205.1 780.9L199.9 782.7L198.9 783.0L197.9 783.3L196.8 783.7L195.8 784.0L194.8 784.4L193.7 784.7L192.7 785.0L191.7 785.3L190.6 785.6L189.5 785.8L188.5 786.1L187.4 786.2L186.3 786.3L185.1 786.1Z" fill="#ffffff" opacity=".2"/>
<ellipse cx="663" cy="708.4" rx="15" ry="1.5" fill="#fffbe0" opacity=".9" filter="url(#b1)"/>
<path d="M185.4 787.2L186.3 786.3L187.3 785.8L188.3 785.4L189.3 785.0L190.3 784.6L191.3 784.2L192.3 783.9L193.4 783.6L194.4 783.3L195.4 782.9L196.5 782.6L197.5 782.3L198.6 782.0L199.6 781.6L204.8 780.0L210.0 778.3L215.2 776.5L220.4 774.8L225.6 773.1L230.8 771.3L236.0 769.6L241.2 767.9L246.4 766.3L251.6 764.7L256.8 763.2L262.0 761.7L267.2 760.3L272.4 758.9L277.6 757.6L282.8 756.3L288.0 755.1L293.2 753.9L298.4 752.7L303.6 751.5L308.8 750.3L314.0 749.2L319.2 748.0L324.4 746.9L329.6 745.7L334.8 744.6L340.0 743.5L345.2 742.4L350.4 741.3L355.6 740.3L360.8 739.2L366.0 738.2L371.2 737.2L376.4 736.3L381.5 735.4L386.7 734.5L391.9 733.6L397.1 732.8L402.3 731.9L407.5 731.2L412.7 730.4L417.9 729.7L423.1 728.9L428.3 728.2L433.5 727.6L438.7 726.9L443.9 726.3L449.1 725.6L454.3 725.0L459.5 724.4L464.7 723.8L469.9 723.2L475.1 722.7L480.3 722.1L485.5 721.5L490.6 721.0L495.8 720.5L501.0 719.9L506.2 719.4L511.4 718.9L516.6 718.4L521.8 717.9L527.0 717.4L532.2 716.9L537.4 716.5L542.6 716.0L547.8 715.5L553.0 715.1L558.2 714.7L563.4 714.2L568.5 713.8L573.7 713.4L578.9 713.0L584.1 712.6L589.3 712.2L594.5 711.8L599.7 711.4L604.9 711.0L610.1 710.6L615.3 710.2L620.5 709.8L625.7 709.5L630.9 709.1L636.1 708.8L641.2 708.4L646.4 708.1L651.6 707.9L656.8 707.7L662.0 707.6L667.2 707.5L672.4 707.5L677.6 707.4L682.8 707.5L688.0 707.5L693.2 707.6L698.4 707.7L703.6 707.9L708.8 708.1L714.0 708.4L714.0 708.4L708.8 708.3L703.6 708.3L698.4 708.3L693.2 708.3L688.0 708.4L682.9 708.5L677.7 708.7L672.5 708.9L667.3 709.1L662.1 709.4L656.9 709.6L651.7 709.9L646.5 710.2L641.4 710.4L636.2 710.6L631.0 710.9L625.8 711.2L620.6 711.5L615.4 711.8L610.2 712.2L605.0 712.5L599.8 712.9L594.6 713.3L589.4 713.7L584.2 714.1L579.1 714.5L573.9 714.9L568.7 715.3L563.5 715.8L558.3 716.2L553.1 716.6L547.9 717.1L542.7 717.5L537.5 718.0L532.3 718.5L527.1 718.9L522.0 719.4L516.8 719.9L511.6 720.4L506.4 720.9L501.2 721.4L496.0 722.0L490.8 722.5L485.6 723.1L480.4 723.6L475.2 724.2L470.0 724.8L464.9 725.3L459.7 725.9L454.5 726.5L449.3 727.2L444.1 727.8L438.9 728.4L433.7 729.1L428.5 729.8L423.3 730.5L418.1 731.2L412.9 731.9L407.8 732.7L402.6 733.5L397.4 734.3L392.2 735.1L387.0 736.0L381.8 736.9L376.6 737.8L371.4 738.8L366.2 739.7L361.1 740.8L355.9 741.8L350.7 742.8L345.5 743.9L340.3 745.0L335.1 746.1L329.9 747.3L324.7 748.4L319.5 749.6L314.3 750.7L309.2 751.9L304.0 753.1L298.8 754.2L293.6 755.4L288.4 756.7L283.2 757.9L278.0 759.2L272.8 760.5L267.7 761.9L262.5 763.3L257.3 764.8L252.1 766.3L246.9 767.9L241.7 769.6L236.6 771.3L231.4 773.1L226.2 774.8L221.0 776.6L215.8 778.4L210.7 780.2L205.5 782.0L200.3 783.8L199.2 784.1L198.2 784.4L197.2 784.8L196.1 785.1L195.1 785.5L194.1 785.8L193.0 786.1L192.0 786.4L190.9 786.7L189.9 786.9L188.8 787.2L187.7 787.3L186.6 787.4L185.4 787.2Z" fill="url(#kg)"/>
<ellipse cx="198" cy="783.5" rx="11" ry="1.9" fill="#ffffff" opacity=".95" transform="rotate(-18 200 782.9)" filter="url(#b1)"/>
<g fill="#fff" opacity=".85"><circle cx="284.4" cy="760.2" r=".75"/><circle cx="286.9" cy="760" r=".75"/><circle cx="301.2" cy="756.2" r=".75"/><circle cx="310.4" cy="754" r=".75"/><circle cx="318.8" cy="752.2" r=".75"/><circle cx="321.2" cy="752.2" r=".75"/><circle cx="327.5" cy="750.2" r=".75"/><circle cx="332.5" cy="749.4" r=".75"/><circle cx="336.5" cy="748.5" r=".75"/><circle cx="339.4" cy="748.1" r=".75"/><circle cx="341.2" cy="747.2" r=".75"/><circle cx="355.6" cy="745.2" r=".75"/><circle cx="384" cy="740.4" r=".75"/><circle cx="404.6" cy="737.4" r=".75"/><circle cx="412.4" cy="736.4" r=".75"/><circle cx="429" cy="734.4" r=".75"/><circle cx="437" cy="733.4" r=".75"/><circle cx="262" cy="766.5" r=".75"/><circle cx="270" cy="764.2" r=".75"/><circle cx="277" cy="762.3" r=".75"/></g>
</svg>
<svg class="abs" style="left:0;top:640px" width="800" height="420" viewBox="0 640 800 420">
<g stroke="#c3cede" stroke-opacity=".31" stroke-width="1.15" fill="none">
<path d="M187.3 658V1020M266.3 658V1020M345.7 658V1020M425.1 658V1020M504.5 658V1020M583.9 658V1020M663.2 658V1020"/>
<path d="M126 708.7H725M126 761H725M126 812.6H725M126 864.7H725M126 916.8H725M126 968.8H725"/>
</g>
<g stroke="#b9c4d4" stroke-width="1.6" fill="none" stroke-linecap="round" stroke-linejoin="round">
<path d="M125.8 657V1020.8H725"/>
<path d="M119.5 663L125.8 656.3L132.3 663"/>
<path d="M719 1014L726 1020.8L719 1027.6"/>
</g>
</svg>
<div class="abs yl" style="top:690px">128<small>MB</small></div>
<div class="abs yl" style="top:743px">80<small>MB</small></div>
<div class="abs yl" style="top:795px">64<small>MB</small></div>
<div class="abs yl" style="top:847px">32<small>MB</small></div>
<div class="abs yl" style="top:899px">16<small>MB</small></div>
<div class="abs yl" style="top:951px">8<small>MB</small></div>
<div class="abs xl" style="left:184px">1<small>S</small></div>
<div class="abs xl" style="left:264px">2<small>S</small></div>
<div class="abs xl" style="left:344px">3<small>S</small></div>
<div class="abs xl" style="left:424px">4<small>S</small></div>
<div class="abs xl" style="left:504px">5<small>S</small></div>
<div class="abs xl" style="left:584px">6<small>S</small></div>
<div class="abs xl" style="left:664px">7<small>S</small></div>

<div class="box"><div class="abs t">下载速度</div><div class="abs n">125</div><div class="abs u">MB/<b>秒</b></div></div>
<div class="abs ps" style="top:1152px">PS:&nbsp;&nbsp;以上数据为山泽实验室测试</div>
<div class="abs ps" style="top:1180px">测试环境为千兆网络+千兆路由器+山泽千兆网线</div>

</div>
</body>
</html>
